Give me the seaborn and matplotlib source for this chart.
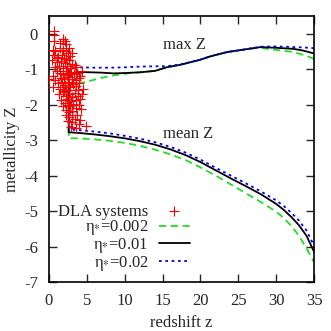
import seaborn as sns
import matplotlib.pyplot as plt
import pandas as pd

# DLA systems (redshift, metallicity)
dla_z = [0.7, 0.65, 0.6, 1.8, 2.1, 2.3, 1.5,
         0.5, 0.8, 0.6, 1.4, 1.9, 2.2, 2.5, 1.7, 2.8, 1.2, 2.0, 3.1, 2.6,
         0.4, 1.0, 1.6, 2.1, 2.6, 3.0, 1.3, 2.4, 3.4, 0.8, 1.9, 2.8, 3.6, 2.2, 1.1,
         0.0, 0.5, 1.0, 1.4, 1.8, 2.2, 2.5, 2.9, 3.3, 3.7, 4.1, 1.6, 2.0, 2.7, 3.1, 3.5, 0.8, 2.4, 4.4, 3.9,
         0.5, 1.2, 1.7, 2.1, 2.5, 2.8, 3.2, 3.6, 4.0, 4.5, 1.5, 2.3, 3.0, 3.8, 2.6, 1.9,
         1.3, 1.8, 2.2, 2.6, 3.0, 3.4, 3.8, 4.3, 2.4, 2.9, 3.6, 4.1, 1.6, 2.0,
         2.1, 2.5, 2.8, 3.2, 3.5, 3.9, 2.3, 3.0, 4.2, 1.9, 2.7,
         2.2, 2.6, 3.0, 3.4, 3.7, 2.5, 3.1, 4.1, 4.9, 2.9, 3.5, 4.0]
dla_Z = [0.08, -0.05, -0.2, -0.15, -0.22, -0.3, -0.25,
         -0.45, -0.5, -0.6, -0.4, -0.45, -0.5, -0.55, -0.6, -0.62, -0.65, -0.68, -0.55, -0.4,
         -0.75, -0.8, -0.78, -0.82, -0.75, -0.85, -0.9, -0.92, -0.88, -0.95, -0.97, -0.98, -0.95, -0.72, -0.7,
         -1.28, -1.2, -1.05, -1.1, -1.15, -1.05, -1.12, -1.08, -1.15, -1.1, -1.2, -1.25, -1.28, -1.22, -1.27, -1.3, -1.3, -1.18, -1.05, -1.25,
         -1.5, -1.4, -1.35, -1.45, -1.38, -1.5, -1.42, -1.48, -1.4, -1.55, -1.55, -1.58, -1.35, -1.58, -1.6, -1.5,
         -1.7, -1.65, -1.75, -1.7, -1.8, -1.68, -1.75, -1.7, -1.85, -1.9, -1.88, -1.85, -1.88, -1.62,
         -1.95, -2.0, -2.05, -1.98, -2.1, -2.02, -2.15, -2.18, -2.12, -2.05, -2.2,
         -2.3, -2.35, -2.28, -2.4, -2.29, -2.45, -2.5, -2.43, -2.6, -2.62, -2.65, -2.55]

# max Z curves (z ascending)
max_z_002 = [2.6, 3.0, 4.0, 5.4, 6.5, 8.1, 10.7, 12, 14, 15.5, 17.3, 19.9, 21.3, 23.5, 25.7, 27.9, 28.8, 30.1, 32.3, 33.6, 34.5, 35]
max_Z_002 = [-1.5, -1.45, -1.4, -1.33, -1.27, -1.19, -1.11, -1.09, -1.05, -0.95, -0.88, -0.74, -0.64, -0.52, -0.45, -0.39, -0.43, -0.46, -0.52, -0.6, -0.67, -0.72]
max_z_001 = [2.6, 2.7, 3.0, 3.5, 4.0, 5.5, 7.0, 8.5, 10, 12, 14, 15.5, 17.3, 19.9, 21.3, 23.5, 25.7, 27.9, 30.1, 32.3, 33.6, 35]
max_Z_001 = [-1.3, -1.2, -1.13, -1.09, -1.08, -1.09, -1.1, -1.12, -1.11, -1.09, -1.05, -0.95, -0.88, -0.74, -0.64, -0.52, -0.45, -0.38, -0.40, -0.43, -0.48, -0.56]
max_z_02 = [2.75, 2.9, 3.3, 4, 6, 8, 10, 12, 14, 15.5, 17.3, 19.9, 21.3, 23.5, 25.7, 27.9, 30.1, 32.3, 33.6, 35]
max_Z_02 = [-1.05, -0.98, -0.95, -0.95, -0.96, -0.96, -0.95, -0.93, -0.92, -0.92, -0.87, -0.74, -0.64, -0.52, -0.45, -0.37, -0.36, -0.38, -0.39, -0.41]

# mean Z curves
mean_z = [4, 6, 8, 10, 12, 14, 16, 18, 20, 22, 24, 26, 28, 30, 31, 32, 33, 34, 35]
mean_Z_002 = [-2.95, -2.98, -3.02, -3.08, -3.16, -3.27, -3.4, -3.56, -3.77, -4.0, -4.25, -4.5, -4.75, -5.02, -5.2, -5.42, -5.7, -6.05, -6.45]
mean_Z_001 = [-2.8, -2.84, -2.89, -2.95, -3.03, -3.13, -3.26, -3.42, -3.62, -3.85, -4.08, -4.3, -4.53, -4.8, -4.97, -5.17, -5.4, -5.7, -6.15]
mean_Z_02 = [-2.72, -2.76, -2.81, -2.88, -2.96, -3.06, -3.19, -3.35, -3.55, -3.78, -4.0, -4.22, -4.45, -4.7, -4.86, -5.05, -5.27, -5.55, -5.98]
mean_start = {"0.002": (2.6, -2.95), "0.01": (2.6, -2.78), "0.02": (2.75, -2.7)}
mean_Z_for = {"0.002": mean_Z_002, "0.01": mean_Z_001, "0.02": mean_Z_02}

sns.set_theme(style="ticks")
plt.rcParams["font.family"] = ["Liberation Serif", "DejaVu Serif"]
plt.rcParams["mathtext.fontset"] = "stix"
plt.rcParams["axes.unicode_minus"] = False

fig = plt.figure(figsize=(3.31, 3.31), dpi=100)
ax = fig.add_axes([0.148, 0.148, 0.801, 0.804])


def path(mz, mZ, key):
    # max curve from high z down, vertical drop, then mean curve back up
    z0, Z0 = mean_start[key]
    zs = list(reversed(mz)) + [z0] + mean_z
    Zs = list(reversed(mZ)) + [Z0] + mean_Z_for[key]
    return pd.DataFrame({"z": zs, "Z": Zs})


sns.scatterplot(x=dla_z, y=dla_Z, marker="+", s=55, color="#ff0000",
                linewidth=0.8, ax=ax, label="DLA systems", zorder=3)

d = path(max_z_002, max_Z_002, "0.002")
sns.lineplot(data=d, x="z", y="Z", sort=False, estimator=None, ax=ax,
             color="#22dd22", lw=1.3, label=r"η$_{*}$=0.002")
ax.lines[-1].set_dashes((4, 2.5))
d = path(max_z_001, max_Z_001, "0.01")
sns.lineplot(data=d, x="z", y="Z", sort=False, estimator=None, ax=ax,
             color="black", lw=1.3, label=r"η$_{*}$=0.01")
d = path(max_z_02, max_Z_02, "0.02")
sns.lineplot(data=d, x="z", y="Z", sort=False, estimator=None, ax=ax,
             color="#0000ee", lw=1.3, label=r"η$_{*}$=0.02")
ax.lines[-1].set_dashes((1.5, 2))

ax.text(15.1, -0.31, "max Z", fontsize=12, va="center", ha="left")
ax.text(15.1, -2.83, "mean Z", fontsize=12, va="center", ha="left")

ax.set_xlim(0, 35)
ax.set_ylim(-7, 0.5)
ax.set_xticks(range(0, 36, 5))
ax.set_yticks(range(-7, 1))
ax.set_xlabel("redshift z", fontsize=12, labelpad=4)
ax.set_ylabel("metallicity Z", fontsize=12, labelpad=3)
ax.tick_params(direction="in", length=6, width=1.0, top=True, right=True,
               labelsize=12, pad=8)
for s in ax.spines.values():
    s.set_linewidth(1.2)
    s.set_color("black")

ax.legend(loc="lower right", bbox_to_anchor=(0.53, 0.035), frameon=False,
          markerfirst=False, fontsize=12, labelspacing=-0.08, handlelength=1.85,
          handletextpad=0.6, borderpad=0, borderaxespad=0)

fig.savefig("out.png", dpi=100)
